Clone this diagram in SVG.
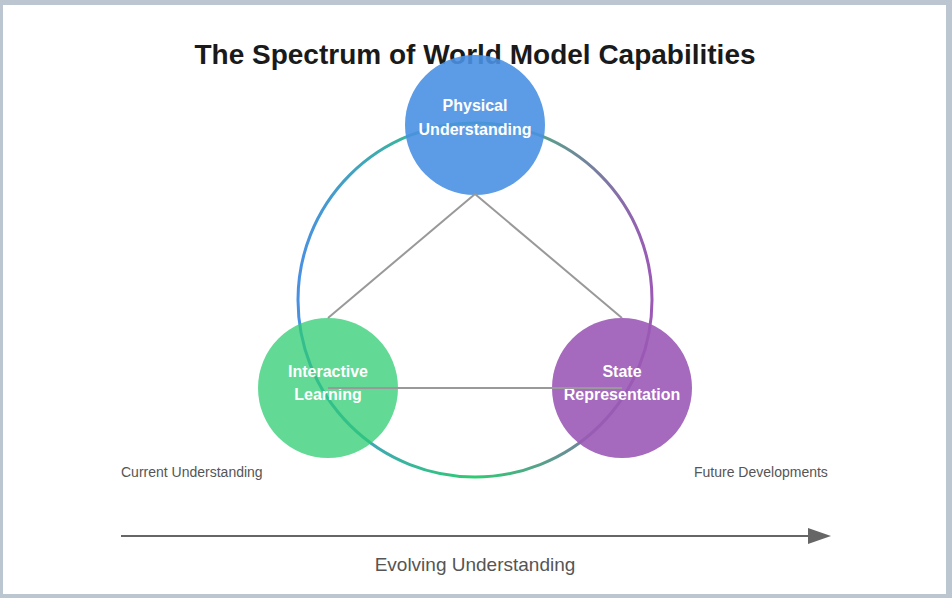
<svg xmlns="http://www.w3.org/2000/svg" width="952" height="598" viewBox="0 0 952 598">
<defs>
<linearGradient id="ringGrad" x1="0%" y1="0%" x2="100%" y2="0%">
<stop offset="0%" stop-color="#4a90e2"/>
<stop offset="50%" stop-color="#2ecc71"/>
<stop offset="100%" stop-color="#9b59b6"/>
</linearGradient>
</defs>
<style>
.title{font-family:"Liberation Sans",Arial,sans-serif;font-weight:bold;font-size:28px;fill:#1a1a1a}
.node-label{font-family:"Liberation Sans",Arial,sans-serif;font-weight:bold;font-size:16px;fill:#ffffff}
.side{font-family:"Liberation Sans",Arial,sans-serif;font-size:14px;fill:#555555}
.axis{font-family:"Liberation Sans",Arial,sans-serif;font-size:19px;fill:#555555}
.link{stroke:#999999;stroke-width:2;fill:none}
</style>
<rect x="0" y="0" width="952" height="598" fill="#bcc6d0"/>
<rect x="3" y="5" width="943" height="589" fill="#ffffff"/>
<text class="title" x="475" y="64" text-anchor="middle">The Spectrum of World Model Capabilities</text>
<circle cx="475" cy="300" r="177" fill="none" stroke="url(#ringGrad)" stroke-width="3"/>
<g id="node-physical">
<circle cx="475" cy="125" r="70" fill="#4a90e2" fill-opacity="0.9"/>
<text class="node-label" x="475" y="111" text-anchor="middle">Physical</text>
<text class="node-label" x="475" y="135" text-anchor="middle">Understanding</text>
</g>
<g id="node-interactive">
<circle cx="328" cy="388" r="70" fill="#2ecc71" fill-opacity="0.75"/>
<text class="node-label" x="328" y="377" text-anchor="middle">Interactive</text>
<text class="node-label" x="328" y="400" text-anchor="middle">Learning</text>
</g>
<g id="node-state">
<circle cx="622" cy="388" r="70" fill="#9b59b6" fill-opacity="0.9"/>
<text class="node-label" x="622" y="377" text-anchor="middle">State</text>
<text class="node-label" x="622" y="400" text-anchor="middle">Representation</text>
</g>
<g id="connectors">
<line class="link" x1="475" y1="194" x2="328" y2="318"/>
<line class="link" x1="475" y1="194" x2="622" y2="318"/>
<line class="link" x1="328" y1="388" x2="622" y2="388"/>
<line x1="121" y1="536" x2="812" y2="536" stroke="#666666" stroke-width="2"/>
<polygon points="808,528 831,536 808,544" fill="#666666"/>
</g>
<text class="side" x="121" y="477">Current Understanding</text>
<text class="side" x="694" y="477">Future Developments</text>
<text class="axis" x="475" y="571" text-anchor="middle">Evolving Understanding</text>
</svg>
